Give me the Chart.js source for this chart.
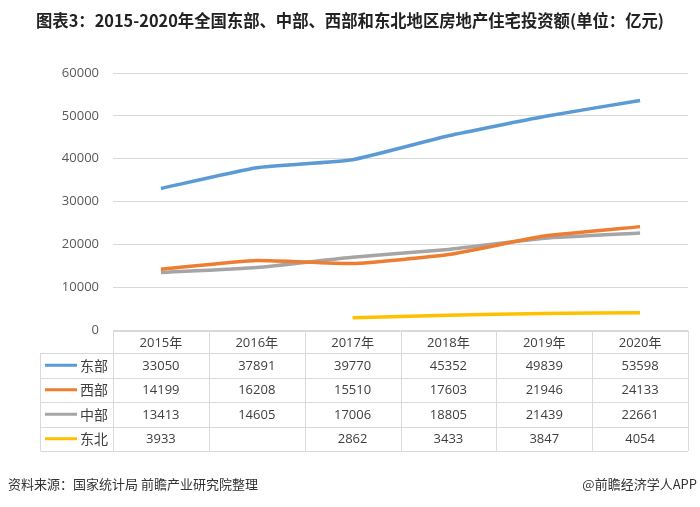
<!DOCTYPE html>
<html lang="zh">
<head>
    <meta charset="UTF-8">
    <title>东部、中部、西部和东北地区房地产住宅投资额</title>
    <script src="https://cdn.jsdelivr.net/npm/chart.js"></script>
    <style>
        html, body { margin: 0; padding: 0; background: #fff; }
        #wrap { width: 700px; height: 507px; }
    </style>
</head>
<body>
    <div id="wrap">
        <canvas id="invest-chart" width="700" height="507"></canvas>
    </div>

    <script>
        // 年份与各地区数据（亿元）
        const years = ['2015年', '2016年', '2017年', '2018年', '2019年', '2020年'];
        const regions = ['东部', '西部', '中部', '东北'];
        const east = [33050, 37891, 39770, 45352, 49839, 53598];
        const west = [14199, 16208, 15510, 17603, 21946, 24133];
        const central = [13413, 14605, 17006, 18805, 21439, 22661];
        const northeast = [3933, null, 2862, 3433, 3847, 4054];
        const colors = ['#5B9BD5', '#ED7D31', '#A5A5A5', '#FFC000'];
        const yTicks = [0, 10000, 20000, 30000, 40000, 50000, 60000];

        const seriesValues = [east, west, central, northeast];
        const FONT = "'Open Sans', 'Noto Sans CJK SC', sans-serif";
        const CJK = "'Noto Sans CJK SC', sans-serif";

        // 标题、数据表和来源说明
        const extras = {
            id: 'extras',
            afterDraw(chart) {
                const ctx = chart.ctx;
                const area = chart.chartArea;
                const x = chart.scales.x;
                const colW = (area.right - area.left) / years.length;
                ctx.save();

                // 标题
                ctx.fillStyle = '#222';
                ctx.font = 'bold 16.5px ' + CJK;
                ctx.textAlign = 'center';
                ctx.textBaseline = 'middle';
                ctx.fillText('图表3：2015-2020年全国东部、中部、西部和东北地区房地产住宅投资额(单位：亿元)', 350, 21, 628);

                // 数据表
                const top = area.bottom + 1;
                const headH = 22;
                const rowH = 24.5;
                const legendLeft = 40.5;
                const bottom = top + headH + rowH * regions.length;
                ctx.strokeStyle = '#d9d9d9';
                ctx.lineWidth = 1;
                ctx.beginPath();
                ctx.moveTo(area.left, top + 0.5);
                ctx.lineTo(area.right, top + 0.5);
                for (let r = 0; r <= regions.length; r++) {
                    const yy = Math.round(top + headH + r * rowH) + 0.5;
                    ctx.moveTo(legendLeft, yy);
                    ctx.lineTo(area.right, yy);
                }
                for (let c = 0; c <= years.length; c++) {
                    const xx = Math.round(area.left + c * colW) + 0.5;
                    ctx.moveTo(xx, top);
                    ctx.lineTo(xx, bottom);
                }
                ctx.moveTo(legendLeft, top + headH);
                ctx.lineTo(legendLeft, bottom);
                ctx.stroke();

                ctx.fillStyle = '#404040';
                ctx.font = '13px ' + FONT;
                years.forEach((y, i) => {
                    ctx.fillText(y, x.getPixelForValue(i), top + headH / 2 + 1);
                });
                regions.forEach((name, r) => {
                    const cy = top + headH + r * rowH + rowH / 2;
                    ctx.strokeStyle = colors[r];
                    ctx.lineWidth = 3;
                    ctx.beginPath();
                    ctx.moveTo(45, cy);
                    ctx.lineTo(77, cy);
                    ctx.stroke();
                    ctx.fillStyle = '#404040';
                    ctx.textAlign = 'left';
                    ctx.font = '14px ' + CJK;
                    ctx.fillText(name, 80, cy);
                    ctx.textAlign = 'center';
                    ctx.font = '13px ' + FONT;
                    seriesValues[r].forEach((v, i) => {
                        if (v !== null) ctx.fillText(String(v), x.getPixelForValue(i), cy + 1);
                    });
                });

                // 来源
                ctx.fillStyle = '#333';
                ctx.font = '13px ' + CJK;
                ctx.textAlign = 'left';
                ctx.fillText('资料来源：国家统计局 前瞻产业研究院整理', 8, 484);
                ctx.textAlign = 'right';
                ctx.fillText('@前瞻经济学人APP', 697, 484);
                ctx.restore();
            }
        };

        const ctx = document.getElementById('invest-chart').getContext('2d');
        new Chart(ctx, {
            type: 'line',
            data: {
                labels: years,
                datasets: regions.map((name, i) => ({
                    label: name,
                    data: seriesValues[i],
                    borderColor: colors[i],
                    backgroundColor: colors[i],
                    borderWidth: 3.5,
                    pointRadius: 0,
                    tension: 0.15,
                    spanGaps: false
                }))
            },
            options: {
                responsive: false,
                animation: false,
                layout: { padding: { left: 0, top: 73, right: 12, bottom: 177 } },
                plugins: {
                    legend: { display: false },
                    tooltip: { enabled: false }
                },
                scales: {
                    x: { display: false, offset: true },
                    y: {
                        min: 0,
                        max: 60000,
                        afterFit(scale) { scale.width = 113; },
                        afterBuildTicks(scale) { scale.ticks = yTicks.map(v => ({ value: v })); },
                        border: { display: false },
                        grid: { color: '#d9d9d9', drawTicks: false },
                        ticks: {
                            color: '#595959',
                            padding: 14,
                            font: { size: 13, family: FONT },
                            callback: v => String(v)
                        }
                    }
                }
            },
            plugins: [extras]
        });
    </script>
</body>
</html>
